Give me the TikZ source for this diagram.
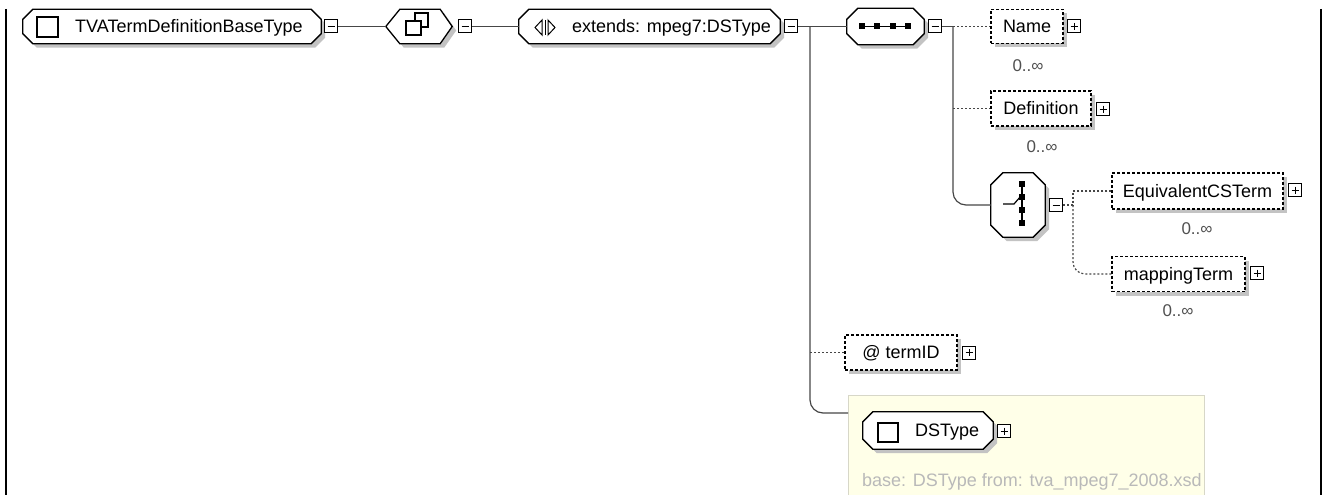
\documentclass[tikz,border=0pt]{standalone}
\usepackage{fontspec}
\setmainfont{Liberation Sans}
\usetikzlibrary{shadows}
\definecolor{shadowgray}{RGB}{195,195,195}
\definecolor{lineg}{RGB}{70,70,70}
\definecolor{ybg}{RGB}{255,255,232}
\definecolor{yborder}{RGB}{215,215,200}
\definecolor{basegray}{RGB}{185,185,185}
\definecolor{multgray}{RGB}{80,80,80}
\newcommand{\octoutline}[2]{%
  \path[octline] ([xshift=#2]#1.north west) -- ([xshift=-#2]#1.north east) -- ([yshift=-#2]#1.north east)
    -- ([yshift=#2]#1.south east) -- ([xshift=-#2]#1.south east) -- ([xshift=#2]#1.south west)
    -- ([yshift=#2]#1.south west) -- ([yshift=-#2]#1.north west) -- cycle;}
\begin{document}
\begin{tikzpicture}[x=1pt,y=-1pt,
  every node/.style={font=\fontsize{18}{21}\selectfont},
  shad/.style={drop shadow={shadow xshift=4pt,shadow yshift=-4pt,fill=shadowgray,opacity=1}},
  octline/.style={draw=black,line width=1.3pt,fill=white,shad},
  anchorbox/.style={inner sep=0pt},
  dbox/.style={draw=black,line width=1.3pt,dash pattern=on 3pt off 2pt,fill=white,inner sep=0pt,text height=12.8pt,text depth=0pt,minimum height=34pt,shad},
  lbl/.style={inner sep=0pt,text height=12.8pt,text depth=0pt},
  mult/.style={inner sep=0pt,text height=12pt,text depth=0pt,font=\fontsize{17}{19}\selectfont,text=multgray},
  mbox/.style={draw=black,line width=1pt,fill=white,minimum size=13pt,inner sep=0pt,path picture={\draw[line width=1pt]([xshift=3pt]path picture bounding box.west)--([xshift=-3pt]path picture bounding box.east);}},
  pbox/.style={draw=black,line width=1pt,fill=white,minimum size=13pt,inner sep=0pt,path picture={\draw[line width=1pt]([xshift=3pt]path picture bounding box.west)--([xshift=-3pt]path picture bounding box.east);\draw[line width=1pt]([yshift=-3pt]path picture bounding box.north)--([yshift=3pt]path picture bounding box.south);}},
  conn/.style={draw=lineg,line width=1.2pt},
  dconn/.style={draw=lineg,line width=1.2pt,dash pattern=on 2pt off 2pt},
  icon/.style={draw=black,line width=1.2pt},
]
\useasboundingbox (0,0) rectangle (1323,495);
% frame
\draw[line width=2pt] (6,9) -- (6,497);
\draw[line width=2pt] (1321,9) -- (1321,497);

% A
\node[anchorbox,minimum width=298pt,minimum height=34pt] (A) at (172,26.5) {};
\octoutline{A}{10pt}
\draw[icon] (37,17) rectangle (58,37);
\node[lbl,anchor=west] (At) at (75,26.5) {TVATermDefinitionBaseType};
\node[mbox] (Am) at (331,26.5) {};

% B
\node[anchorbox,minimum width=66pt,minimum height=34pt] (B) at (419,26.5) {};
\path[octline] (B.west) -- ([xshift=14pt]B.north west) -- ([xshift=-12pt]B.north east) -- (B.east) -- ([xshift=-12pt]B.south east) -- ([xshift=14pt]B.south west) -- cycle;
\draw[icon] (415,13) rectangle (428,27);
\draw[icon,fill=white] (406,21) rectangle (421,35);
\node[mbox] (Bm) at (465,26.5) {};

% C
\node[anchorbox,minimum width=261pt,minimum height=34pt] (C) at (649.5,26.5) {};
\octoutline{C}{10pt}
\draw[icon,line width=1pt] (542,20) -- (535,27.5) -- (542,35) -- cycle;
\draw[icon,line width=1pt] (545,20) -- (545,35);
\draw[icon,line width=1pt] (548,20) -- (555,27.5) -- (548,35) -- cycle;
\node[lbl,anchor=west] (Ct) at (572,26.5) {extends: mpeg7:DSType};
\node[mbox] (Cm) at (791,26.5) {};

% D sequence
\node[anchorbox,minimum width=77pt,minimum height=36pt] (D) at (885.5,26.5) {};
\octoutline{D}{11pt}
\draw[icon] (860,26.5) -- (910,26.5);
\foreach \xx in {862,877,893,908} {\fill (\xx-3,23.5) rectangle ++(6,6);}
\node[mbox] (Dm) at (935,26.5) {};

% Name
\node[dbox,minimum width=72pt] (N) at (1027,26.5) {Name};
\node[pbox] (Np) at (1074,26.5) {};
\node[mult] (Nm) at (1028,65) {0..∞};

% Definition
\node[dbox,minimum width=100pt,minimum height=35pt] (Df) at (1041,108.5) {Definition};
\node[pbox] (Dfp) at (1103,109) {};
\node[mult] (Dfm) at (1042,146) {0..∞};

% E choice
\node[anchorbox,minimum width=54pt,minimum height=64pt] (E) at (1018,205) {};
\octoutline{E}{12pt}
\draw[icon] (1022,184) -- (1022,223);
\foreach \yy in {184,197,210,223} {\fill (1019,\yy-3) rectangle ++(6,6);}
\draw[icon] (1003,204) -- (1014,204) -- (1021,196);
\node[mbox] (Em) at (1056,205) {};

% EquivalentCSTerm
\node[dbox,minimum width=171pt,minimum height=36pt] (Eq) at (1197.5,191) {EquivalentCSTerm};
\node[pbox] (Eqp) at (1295,190) {};
\node[mult] (Eqm) at (1197,228) {0..∞};

% mappingTerm
\node[dbox,minimum width=133pt,minimum height=35pt] (Mp) at (1178.5,274) {mappingTerm};
\node[pbox] (Mpp) at (1257,273) {};
\node[mult] (Mpm) at (1178,310) {0..∞};

% termID
\node[dbox,minimum width=112pt,minimum height=35pt] (T) at (901,352.5) {@ termID};
\node[pbox] (Tp) at (969,352.5) {};

% DSType base
\node[draw=yborder,fill=ybg,line width=1pt,minimum width=356pt,minimum height=106pt,anchor=north west,inner sep=0pt] (Y) at (848,395) {};
\node[anchorbox,minimum width=130pt,minimum height=37pt] (S) at (928,430.5) {};
\octoutline{S}{10pt}
\draw[icon] (878,423) rectangle (898,442);
\node[lbl,anchor=west] (St) at (915,430.5) {DSType};
\node[pbox] (Sp) at (1004,431) {};
\node[lbl,anchor=west,text=basegray] (Bt) at (862,480) {base: DSType from: tva\_mpeg7\_2008.xsd};

% connectors
\draw[conn] (Am.east) -- (B.west);
\draw[conn] (Bm.east) -- (C.west);
\coordinate (t1) at (810,26.5);
\draw[conn] (Cm.east) -- (D.west);
\coordinate (y1) at (848,413);
\draw[conn,rounded corners=13pt] (t1) |- (y1);
\draw[dconn] (t1 |- T.west) -- (T.west);
\coordinate (t2) at (953,26.5);
\draw[conn] (Dm.east) -- (t2);
\draw[dconn] (t2) -- (N.west);
\draw[dconn] (t2 |- Df.west) -- (Df.west);
\draw[conn,rounded corners=13pt] (t2) |- (E.west);
\coordinate (t3) at (1073,205);
\draw[dconn] (Em.east) -- (t3);
\draw[dconn] (Eq.west) -| (t3);
\draw[dconn,rounded corners=12pt] (t3) |- (Mp.west);
\end{tikzpicture}
\end{document}
